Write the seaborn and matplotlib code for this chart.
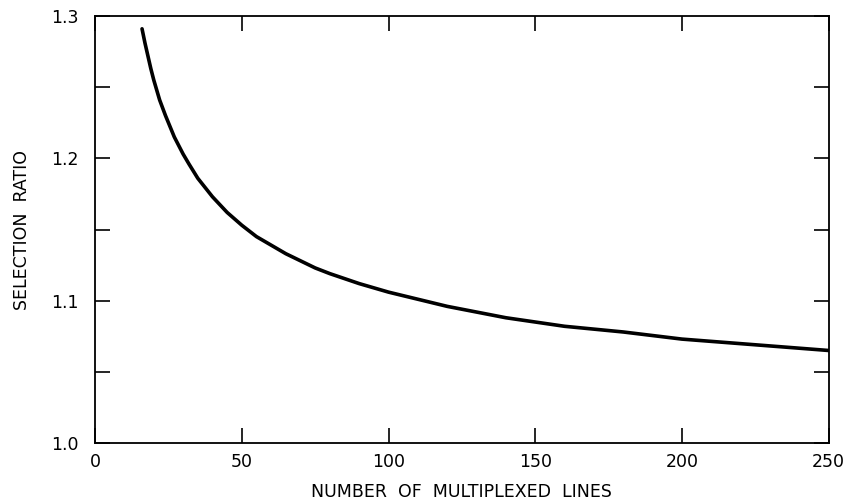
import numpy as np
import pandas as pd
import seaborn as sns
import matplotlib.pyplot as plt

# selection ratio
lines = [16, 17, 18, 19, 20, 22, 24, 25, 27, 28, 30, 32, 35, 40, 45, 50, 55,
         60, 65, 70, 75, 80, 90, 100, 120, 140, 160, 180, 200, 225, 250]
ratio = [1.291, 1.281, 1.272, 1.263, 1.255, 1.241, 1.230, 1.225, 1.215,
         1.211, 1.203, 1.196, 1.186, 1.173, 1.162, 1.153, 1.145,
         1.139, 1.133, 1.128, 1.123, 1.119, 1.112, 1.106,
         1.096, 1.088, 1.082, 1.078, 1.073, 1.069, 1.065]

df = pd.DataFrame({"N": lines, "ratio": ratio})

sns.set_style("ticks")
plt.rcParams["font.family"] = ["DejaVu Sans"]

fig = plt.figure(figsize=(8.49, 5), dpi=100)
ax = fig.add_axes([0.112, 0.114, 0.864, 0.854])

sns.lineplot(data=df, x="N", y="ratio", ax=ax, color="black", linewidth=2.6)

ax.set_xlim(0, 250)
ax.set_ylim(1.0, 1.3)
ax.set_xticks([0, 50, 100, 150, 200, 250])
ax.set_xticklabels(["0", "50", "100", "150", "200", "250"])
ax.set_yticks([1.0, 1.05, 1.1, 1.15, 1.2, 1.25, 1.3])
ax.set_yticklabels(["1.0", "", "1.1", "", "1.2", "", "1.3"])
ax.tick_params(direction="in", length=11, width=1.2, top=True, right=True,
               labelsize=12.5, colors="black", pad=7)
ax.tick_params(axis="y", pad=12)
for s in ax.spines.values():
    s.set_linewidth(1.3)
    s.set_color("black")

ax.set_xlabel("NUMBER  OF  MULTIPLEXED  LINES", fontsize=12.5, color="black",
              labelpad=9)
ax.set_ylabel("SELECTION  RATIO", fontsize=12.5, color="black", labelpad=14)

fig.savefig("out.png", dpi=100)
